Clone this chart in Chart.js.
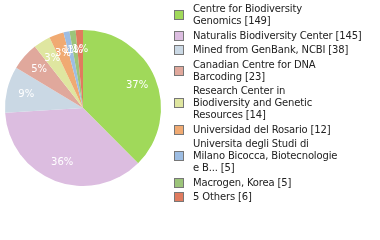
<!DOCTYPE html>
<html>
<head>
<meta charset="utf-8">
<script src="https://cdn.jsdelivr.net/npm/chart.js@4"></script>
<style>
  html, body { margin: 0; padding: 0; background: #fff; }
  .wrap { position: relative; width: 380px; height: 240px; }
  #myChart { position: absolute; left: 0; top: 0; }
  .legend { position: absolute; left: 174px; top: 3px; width: 206px;
    font-family: "DejaVu Sans", sans-serif; font-size: 10px; line-height: 12px; color: #222;
    letter-spacing: -0.15px; }
  .item { display: flex; align-items: center; margin-bottom: 2.5px; }
  .box { width: 8px; height: 8px; border: 1px solid #777; flex: none; margin-right: 9px; }
  .txt { white-space: nowrap; }
</style>
</head>
<body>
<div class="wrap">
  <canvas id="myChart" width="380" height="240"></canvas>
  <div class="legend" id="legend"></div>
</div>
<script>
// pie data
var labels = ["Centre for Biodiversity Genomics", "Naturalis Biodiversity Center", "Mined from GenBank, NCBI",
  "Canadian Centre for DNA Barcoding", "Research Center in Biodiversity and Genetic Resources",
  "Universidad del Rosario", "Universita degli Studi di Milano Bicocca, Biotecnologie e B...",
  "Macrogen, Korea", "5 Others"];
var counts = [149, 145, 38, 23, 14, 12, 5, 5, 6];
var sliceColors = ["#a0d95a", "#dcbde0", "#cad8e4", "#e0a89c", "#dfe6a0", "#f0aa72", "#9dbde3", "#9cc47a", "#e07b5f"];

var total = counts.reduce((a, b) => a + b, 0);

// percentage labels inside slices
const pctLabels = {
  id: 'pctLabels',
  afterDatasetsDraw(chart) {
    const ctx = chart.ctx;
    const meta = chart.getDatasetMeta(0);
    ctx.save();
    ctx.fillStyle = '#fff';
    ctx.font = '10px "DejaVu Sans", sans-serif';
    ctx.textAlign = 'center';
    ctx.textBaseline = 'middle';
    meta.data.forEach((arc, i) => {
      const p = arc.getProps(['x', 'y', 'startAngle', 'endAngle', 'outerRadius'], true);
      const mid = (p.startAngle + p.endAngle) / 2;
      const r = p.outerRadius * 0.75;
      const pct = Math.floor(counts[i] / total * 100);
      ctx.fillText(pct + '%', p.x + Math.cos(mid) * r, p.y + Math.sin(mid) * r);
    });
    ctx.restore();
  }
};

const config = {
  type: 'pie',
  data: {
    labels: labels,
    datasets: [{
      data: counts,
      backgroundColor: sliceColors,
      borderWidth: 0,
    }]
  },
  options: {
    responsive: false,
    animation: false,
    layout: { padding: { left: 5, top: 30, right: 219, bottom: 54 } },
    plugins: {
      legend: { display: false },
      tooltip: { enabled: false },
    },
  },
  plugins: [pctLabels],
};

const myChart = new Chart(document.getElementById('myChart'), config);

// wrap names at ~30 chars
function wrapName(text, max) {
  const lines = [];
  let cur = '';
  text.split(' ').forEach(w => {
    if (cur && (cur + ' ' + w).length > max) { lines.push(cur); cur = w; }
    else cur = cur ? cur + ' ' + w : w;
  });
  lines.push(cur);
  return lines;
}

// html legend
const legendEl = document.getElementById('legend');
labels.forEach((name, i) => {
  const item = document.createElement('div');
  item.className = 'item';
  const lines = wrapName(name, 30);
  lines[lines.length - 1] += ' [' + counts[i] + ']';
  item.innerHTML = '<div class="box" style="background:' + sliceColors[i] + '"></div>' +
    '<div class="txt">' + lines.join('<br>') + '</div>';
  legendEl.appendChild(item);
});
</script>
</body>
</html>
